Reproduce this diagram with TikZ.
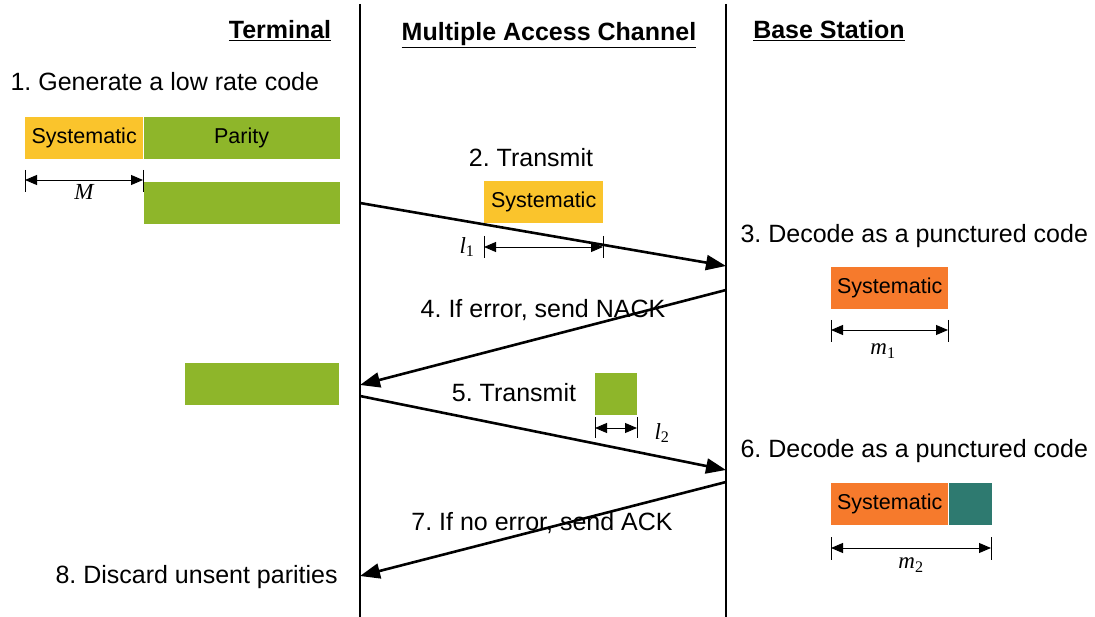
\documentclass[tikz,border=0pt]{standalone}
\usepackage{fontspec}
\setmainfont{Liberation Sans}
\newfontfamily\lenfont{Liberation Serif}
\usetikzlibrary{arrows.meta, positioning}
\definecolor{sysyellow}{HTML}{FAC42C}
\definecolor{pargreen}{HTML}{8EB62A}
\definecolor{decorange}{HTML}{F67A2C}
\definecolor{decteal}{HTML}{2E7A70}
\frenchspacing
\tikzset{
x=1pt, y=-1pt, % one unit per pixel, y grows downwards
msg/.style={-{Triangle[length=20pt,width=15pt]}, line width=2.6pt}, % messages over the channel
dimline/.style={{Triangle[length=12pt,width=10pt]}-{Triangle[length=12pt,width=10pt]}, line width=0.9pt}, % length arrows under the blocks
tick/.style={line width=0.9pt}, % end marks of the length arrows
block/.style={inner sep=0pt, minimum height=42pt, anchor=north west, font=\fontsize{21.5}{24}\selectfont}, % coloured code blocks
lbl/.style={font=\fontsize{25}{30}\selectfont, anchor=base}, % step labels
head/.style={font=\fontsize{25}{30}\selectfont\bfseries, anchor=base}, % column headers
len/.style={font=\fontsize{23}{26}\selectfont\lenfont\itshape}, % length symbols
}
\begin{document}
\begin{tikzpicture}
    \useasboundingbox (0,0) rectangle (1095,617);

    % the two borders of the channel
    \coordinate (ltop) at (360,4);
    \coordinate (lbot) at (360,617);
    \coordinate (rtop) at (726,4);
    \coordinate (rbot) at (726,617);
    \draw[line width=1.1pt] (ltop) -- (lbot);
    \draw[line width=1.1pt] (rtop) -- (rbot);

    % headers
    \node[head] (hterm) at (280,39) {\underline{Terminal}};
    \node[head] (hmac) at (549,41) {\underline{Multiple Access Channel}};
    \node[head] (hbs) at (829,39) {\underline{Base Station}};

    % terminal side
    \node[lbl, anchor=base west] (s1) at (7,91) {1. Generate a low rate code};
    \node[block, fill=sysyellow, minimum width=118pt] (sys0) at (25,117) {Systematic};
    \node[block, fill=pargreen, minimum width=196pt, right=0pt of sys0] (par0) {Parity};
    \node[block, fill=pargreen, minimum width=196pt, below=22pt of par0] (par1) {};
    \coordinate (ma) at (25,180);
    \coordinate (mb) at (143,180);
    \draw[dimline] (ma) -- (mb);
    \draw[tick] (ma) ++(0,-10) -- ++(0,22);
    \draw[tick] (mb) ++(0,-10) -- ++(0,22);
    \node[len] (mlen) at (84,192) {M};

    \node[block, fill=pargreen, minimum width=154pt] (par2) at (185,363) {};
    \node[lbl, anchor=base west] (s8) at (52,583) {8. Discard unsent parities};

    % channel
    \node[lbl] (s2) at (531,167) {2. Transmit};
    \node[block, fill=sysyellow, minimum width=119pt] (sys1) at (484,181) {Systematic};
    \coordinate (la) at (484,247);
    \coordinate (lb) at (603,247);
    \draw[dimline] (la) -- (lb);
    \draw[tick] (la) ++(0,-11) -- ++(0,22);
    \draw[tick] (lb) ++(0,-11) -- ++(0,22);
    \node[len] (l1len) at (467,247) {l\textsubscript{\upshape 1}};

    \node[lbl] (s4) at (543,318) {4. If error, send NACK};

    \node[lbl] (s5) at (514,402) {5. Transmit};
    \node[block, fill=pargreen, minimum width=42pt] (par3) at (595,373) {};
    \coordinate (ka) at (595,428);
    \coordinate (kb) at (637,428);
    \draw[dimline] (ka) -- (kb);
    \draw[tick] (ka) ++(0,-11) -- ++(0,21);
    \draw[tick] (kb) ++(0,-11) -- ++(0,21);
    \node[len] (l2len) at (662,433) {l\textsubscript{\upshape 2}};

    \node[lbl] (s7) at (542,530) {7. If no error, send ACK};

    % base station side
    \node[lbl, anchor=base west] (s3) at (737,243) {3. Decode as a punctured code};
    \node[block, fill=decorange, minimum width=117pt] (dec1) at (831,267) {Systematic};
    \coordinate (na) at (831,330);
    \coordinate (nb) at (948,330);
    \draw[dimline] (na) -- (nb);
    \draw[tick] (na) ++(0,-10) -- ++(0,22);
    \draw[tick] (nb) ++(0,-10) -- ++(0,22);
    \node[len] (m1len) at (883,351) {m\textsubscript{\upshape 1}};

    \node[lbl, anchor=base west] (s6) at (737,457) {6. Decode as a punctured code};
    \node[block, fill=decorange, minimum width=117pt] (dec2) at (831,483) {Systematic};
    \node[block, fill=decteal, minimum width=43pt, right=0pt of dec2] (dec3) {};
    \coordinate (pa) at (831,548);
    \coordinate (pb) at (991,548);
    \draw[dimline] (pa) -- (pb);
    \draw[tick] (pa) ++(0,-11) -- ++(0,23);
    \draw[tick] (pb) ++(0,-11) -- ++(0,23);
    \node[len] (m2len) at (911,565) {m\textsubscript{\upshape 2}};

    % messages
    \coordinate (t1) at (360,203);
    \coordinate (b1) at (726,266);
    \coordinate (b2) at (726,290);
    \coordinate (t2) at (360,385);
    \coordinate (t3) at (360,396);
    \coordinate (b3) at (726,470);
    \coordinate (b4) at (726,482);
    \coordinate (t4) at (360,576);
    \draw[msg] (t1) -- (b1);
    \draw[msg] (b2) -- (t2);
    \draw[msg] (t3) -- (b3);
    \draw[msg] (b4) -- (t4);
\end{tikzpicture}
\end{document}
